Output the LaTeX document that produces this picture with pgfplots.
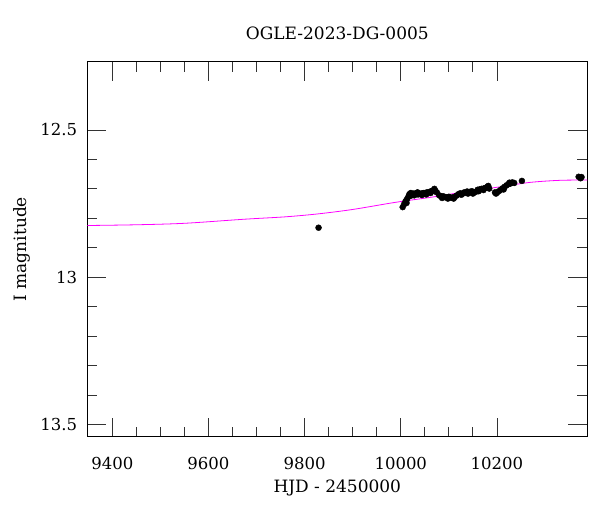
\documentclass[border=0pt]{standalone}
\usepackage{fontspec}
\setmainfont{DejaVu Serif}
\usepackage{pgfplots}
\pgfplotsset{compat=1.18}
\begin{document}
\begin{tikzpicture}
\useasboundingbox (-87.3pt,-75.3pt) rectangle (512.7pt,436.7pt);
\begin{axis}[
  at={(0pt,0pt)}, anchor=south west,
  width=500pt, height=375pt, scale only axis,
  xmin=9348, xmax=10388, ymin=12.268, ymax=13.542,
  y dir=reverse,
  scaled x ticks=false, scaled y ticks=false,
  /pgf/number format/assume math mode=true,
  xtick={9400,9600,9800,10000,10200},
  xticklabels={9400,9600,9800,10000,10200},
  minor x tick num=3,
  ytick={12.5,13,13.5},
  yticklabels={12.5,13,13.5},
  minor y tick num=4,
  tick align=inside,
  major tick length=19pt, minor tick length=10pt,
  tick style={line width=0.8pt, black!80},
  axis line style={line width=1pt},
  xticklabel style={font=\fontsize{16.5}{18}\selectfont, inner sep=0pt, anchor=north, yshift=-20pt},
  yticklabel style={font=\fontsize{16.5}{18}\selectfont, inner sep=0pt, anchor=east, xshift=-10pt},
  every axis title/.style={at={(axis description cs:0.5,1.0592)}, anchor=base, font=\fontsize{17}{19}\selectfont},
  every axis x label/.style={at={(axis description cs:0.5,-0.1501)}, anchor=base, font=\fontsize{17}{19}\selectfont},
  every axis y label/.style={at={(axis description cs:-0.1206,0.5)}, rotate=90, anchor=base, font=\fontsize{17}{19}\selectfont},
  title={OGLE-2023-DG-0005},
  xlabel={HJD - 2450000},
  ylabel={I magnitude},
  clip=true,
]
\addplot[color={rgb,255:red,255;green,0;blue,255}, line width=0.8pt, smooth, no marks] coordinates {
(9348,12.8245) (9450,12.822) (9550,12.817) (9676,12.803) (9760,12.795)
(9828,12.785) (9900,12.770) (9988,12.746) (10061,12.729) (10134,12.710)
(10207,12.693) (10269,12.678) (10331,12.671) (10388,12.670)
};
\addplot[only marks, mark=*, mark size=3pt, black] coordinates {
(9829,12.832)
(10004,12.762) (10007,12.752) (10010,12.742) (10013,12.735) (10016,12.726)
(10018,12.718) (10021,12.714) (10024,12.720) (10027,12.716) (10030,12.718)
(10033,12.714) (10036,12.719) (10039,12.716) (10042,12.717) (10045,12.715)
(10048,12.714) (10051,12.716) (10054,12.712) (10057,12.713) (10060,12.710)
(10063,12.709) (10066,12.706) (10069,12.704) (10072,12.707) (10075,12.712)
(10080,12.722) (10084,12.726) (10088,12.725) (10092,12.728) (10096,12.729)
(10100,12.727) (10104,12.730) (10108,12.729) (10112,12.728) (10116,12.723)
(10120,12.718) (10124,12.715) (10128,12.717) (10132,12.712) (10136,12.714)
(10140,12.716) (10144,12.710) (10148,12.708) (10152,12.713) (10156,12.710)
(10160,12.703) (10164,12.702) (10168,12.700) (10172,12.704) (10176,12.697)
(10180,12.693) (10184,12.699) (10196,12.712) (10200,12.713) (10204,12.708)
(10208,12.703) (10212,12.698) (10216,12.693) (10220,12.688) (10224,12.684)
(10228,12.682) (10232,12.678) (10236,12.680) (10252,12.673)
(10370,12.659) (10376,12.660)
(10012,12.748) (10020,12.724) (10028,12.722) (10035,12.712) (10044,12.721)
(10053,12.719) (10062,12.714) (10070,12.700) (10086,12.731) (10098,12.733)
(10110,12.733) (10126,12.720) (10138,12.709) (10150,12.716) (10162,12.708)
(10174,12.698) (10182,12.690) (10198,12.716) (10214,12.702) (10226,12.679)
(10374,12.664)
};
\end{axis}
\end{tikzpicture}
\end{document}
